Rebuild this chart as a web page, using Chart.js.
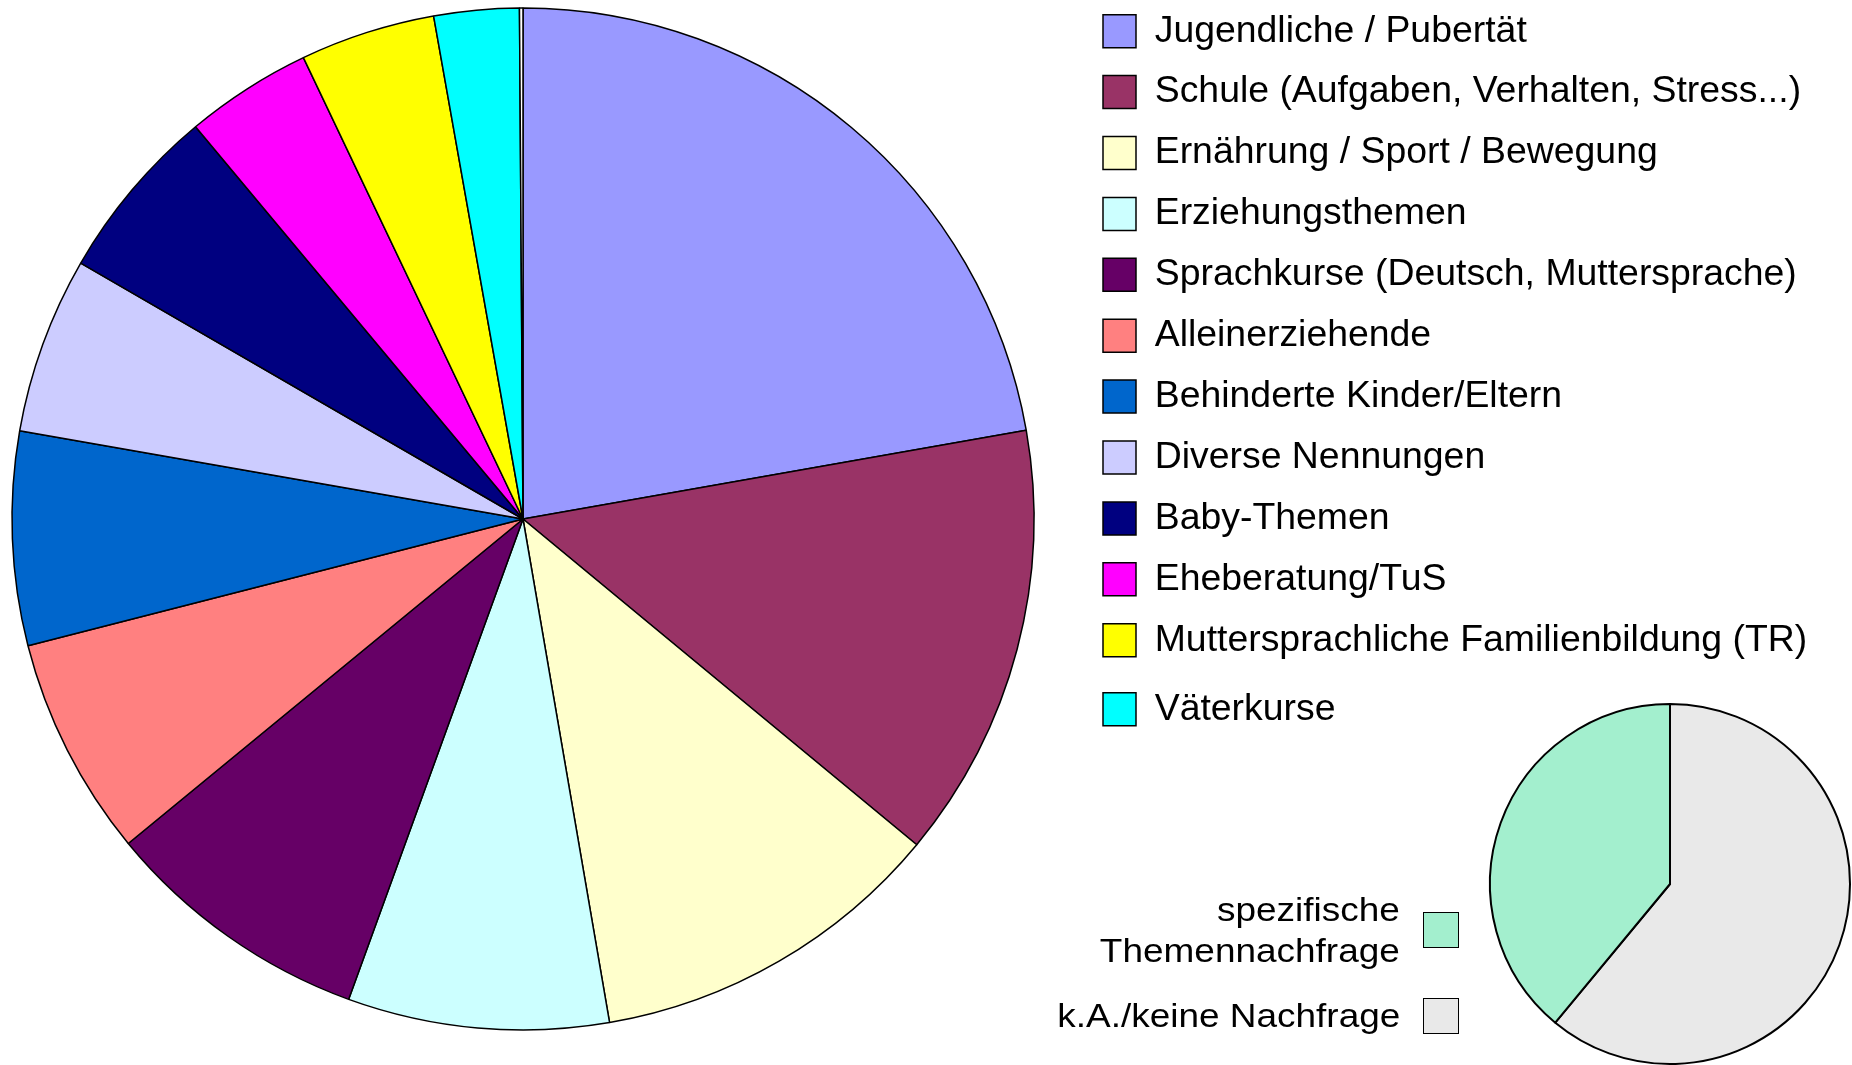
<!DOCTYPE html>
<html lang="de">
<head>
  <meta charset="UTF-8">
  <title>Themennachfrage</title>
  <script src="https://cdn.jsdelivr.net/npm/chart.js"></script>
  <style>
    body { margin: 0; width: 1852px; height: 1065px; overflow: hidden; background: #fff;
           font-family: 'Liberation Sans', Arial, sans-serif; }
    #haupt { position: absolute; left: -40px; top: -11px; }
    #klein { position: absolute; left: 1480px; top: 694px; }
    .zeile { position: absolute; right: 393px; display: flex; align-items: center; }
    .zeile .text { font-size: 33px; line-height: 41px; text-align: right; color: #000;
                   transform: scaleX(1.12); transform-origin: right center; white-space: nowrap; }
    .zeile .kasten { width: 34px; height: 34px; border: 1.5px solid #000; margin-left: 23px; }
  </style>
</head>
<body>
  <canvas id="haupt" width="1892" height="1080"></canvas>
  <canvas id="klein" width="380" height="380"></canvas>
  <div id="kleinLegende"></div>

  <script>
    // Themen (grosser Kreis), Anteile in %; letzter Eintrag = schmaler Rest ohne Beschriftung
    const themen = [
      'Jugendliche / Pubertät',
      'Schule (Aufgaben, Verhalten, Stress...)',
      'Ernährung / Sport / Bewegung',
      'Erziehungsthemen',
      'Sprachkurse (Deutsch, Muttersprache)',
      'Alleinerziehende',
      'Behinderte Kinder/Eltern',
      'Diverse Nennungen',
      'Baby-Themen',
      'Eheberatung/TuS',
      'Muttersprachliche Familienbildung (TR)',
      'Väterkurse',
      ''
    ];
    const anteile = [22.22, 13.78, 11.29, 8.25, 8.51, 6.96, 6.75, 5.59, 5.58, 4.0, 4.27, 2.69, 0.11];
    const farben = ['#9999ff', '#993366', '#ffffcc', '#ccffff', '#660066', '#ff8080',
                    '#0066cc', '#ccccff', '#000080', '#ff00ff', '#ffff00', '#00ffff', '#ffffff'];

    // kleiner Kreis
    const nachfrageLabels = ['k.A./keine Nachfrage', ['spezifische', 'Themennachfrage']];
    const nachfrageWerte = [61, 39];
    const nachfrageFarben = ['#e9e9e9', '#a3efce'];

    const schrift = "'Liberation Sans', Arial, sans-serif";
    const groesse = 37.4;
    const abstand = 23.5;

    // Legendenbreite messen, damit die Kaestchen bei x=1103 landen
    const mess = document.createElement('canvas').getContext('2d');
    mess.font = groesse + 'px ' + schrift;
    const maxText = Math.max(...themen.map(t => mess.measureText(t).width));
    const legendeBreite = abstand + 33 + groesse / 2 + maxText + 10;
    const legendeLinks = 1143 - abstand;
    const rechts = 1892 - legendeLinks - legendeBreite;
    const links = 2 * 563 - legendeLinks;

    new Chart(document.getElementById('haupt'), {
      type: 'pie',
      data: {
        labels: themen,
        datasets: [{
          data: anteile,
          backgroundColor: farben,
          borderColor: '#000',
          borderWidth: 1.5,
          radius: 511
        }]
      },
      options: {
        responsive: false,
        animation: false,
        layout: { padding: { left: links, top: 0, bottom: 20, right: rechts } },
        plugins: {
          tooltip: { enabled: false },
          legend: {
            position: 'right',
            align: 'start',
            labels: {
              boxWidth: 33,
              boxHeight: 33,
              padding: abstand,
              color: '#000',
              font: { family: schrift, size: groesse, lineHeight: 1.22 },
              generateLabels(chart) {
                const items = Chart.overrides.doughnut.plugins.legend.labels.generateLabels(chart);
                return items.filter(it => it.text !== '').map(it => {
                  // etwas mehr Abstand vor "Väterkurse"
                  if (it.index === 10) it.text = [it.text];
                  return it;
                });
              }
            }
          }
        }
      }
    });

    new Chart(document.getElementById('klein'), {
      type: 'pie',
      data: {
        labels: nachfrageLabels,
        datasets: [{
          data: nachfrageWerte,
          backgroundColor: nachfrageFarben,
          borderColor: '#000',
          borderWidth: 2,
          radius: 180
        }]
      },
      options: {
        responsive: false,
        animation: false,
        plugins: { legend: { display: false }, tooltip: { enabled: false } }
      }
    });

    // Legende des kleinen Kreises (umgekehrte Reihenfolge)
    const box = document.getElementById('kleinLegende');
    let y = 889;
    for (let i = nachfrageLabels.length - 1; i >= 0; i--) {
      const zeilen = Array.isArray(nachfrageLabels[i]) ? nachfrageLabels[i] : [nachfrageLabels[i]];
      const div = document.createElement('div');
      div.className = 'zeile';
      div.style.top = y + 'px';
      div.innerHTML = '<div class="text">' + zeilen.join('<br>') + '</div>' +
        '<div class="kasten" style="background:' + nachfrageFarben[i] + '"></div>';
      box.appendChild(div);
      y += zeilen.length * 41 + 24;
    }
  </script>
</body>
</html>
